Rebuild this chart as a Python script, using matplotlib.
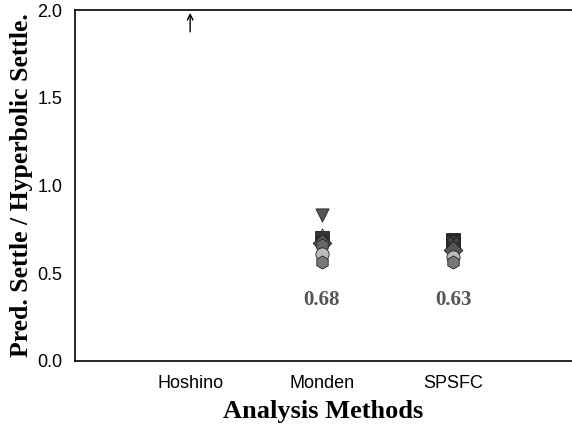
import numpy as np
import matplotlib.pyplot as plt

# ratio of predicted settlement to hyperbolic settlement per method
methods = ["Hoshino", "Monden", "SPSFC"]
monden_vals = [0.83, 0.72, 0.70, 0.68, 0.67, 0.66, 0.61, 0.565]
monden_marks = ["v", "^", "s", "X", "D", "h", "o", "h"]
monden_cols = ["#555555", "#ffffff", "#333333", "#444444", "#555555", "#666666", "#bbbbbb", "#777777"]
spsfc_vals = [0.69, 0.68, 0.67, 0.63, 0.59, 0.565]
spsfc_marks = ["s", "s", "X", "D", "o", "h"]
spsfc_cols = ["#222222", "#333333", "#444444", "#555555", "#bbbbbb", "#777777"]
means = [None, 0.68, 0.63]
mean_y = 0.35

fig = plt.figure(figsize=(5.72, 4.30), dpi=100)
ax = fig.add_axes([0.131, 0.1605, 0.869, 0.816])

for x, vals, marks, cols in [(2, monden_vals, monden_marks, monden_cols),
                             (3, spsfc_vals, spsfc_marks, spsfc_cols)]:
    for v, m, c in zip(vals, marks, cols):
        ax.scatter(x, v, marker=m, s=90, color=c, edgecolor="#222222",
                   linewidth=0.6, zorder=3)

# Hoshino is off the scale, shown with an arrow
ax.annotate("", xy=(1, 2.0), xytext=(1, 1.86),
            arrowprops=dict(arrowstyle="->", color="black", lw=1))

for x, m in enumerate(means, start=1):
    if m is not None:
        ax.text(x, mean_y, f"{m:.2f}", ha="center", va="center",
                fontsize=15, fontweight="bold", color="#555555",
                family="Liberation Serif")

ax.set_xlim(0.125, 3.9)
ax.set_ylim(0, 2.0)
ax.set_xticks([1, 2, 3])
ax.set_xticklabels(methods, family="Liberation Sans", fontsize=13)
ax.set_yticks([0, 0.5, 1.0, 1.5, 2.0])
ax.set_yticklabels(["0.0", "0.5", "1.0", "1.5", "2.0"], family="Liberation Sans", fontsize=13)
ax.tick_params(axis="x", length=0, pad=10)
ax.tick_params(axis="y", length=0, pad=9)
ax.spines["right"].set_visible(False)
for s in ["left", "bottom", "top"]:
    ax.spines[s].set_linewidth(1.2)

ax.set_xlabel("Analysis Methods", family="Liberation Serif", fontweight="bold",
              fontsize=19, labelpad=6)
ax.set_ylabel("Pred. Settle / Hyperbolic Settle.", family="Liberation Serif",
              fontweight="bold", fontsize=18.5, labelpad=3)

fig.savefig("out.png", dpi=100)
